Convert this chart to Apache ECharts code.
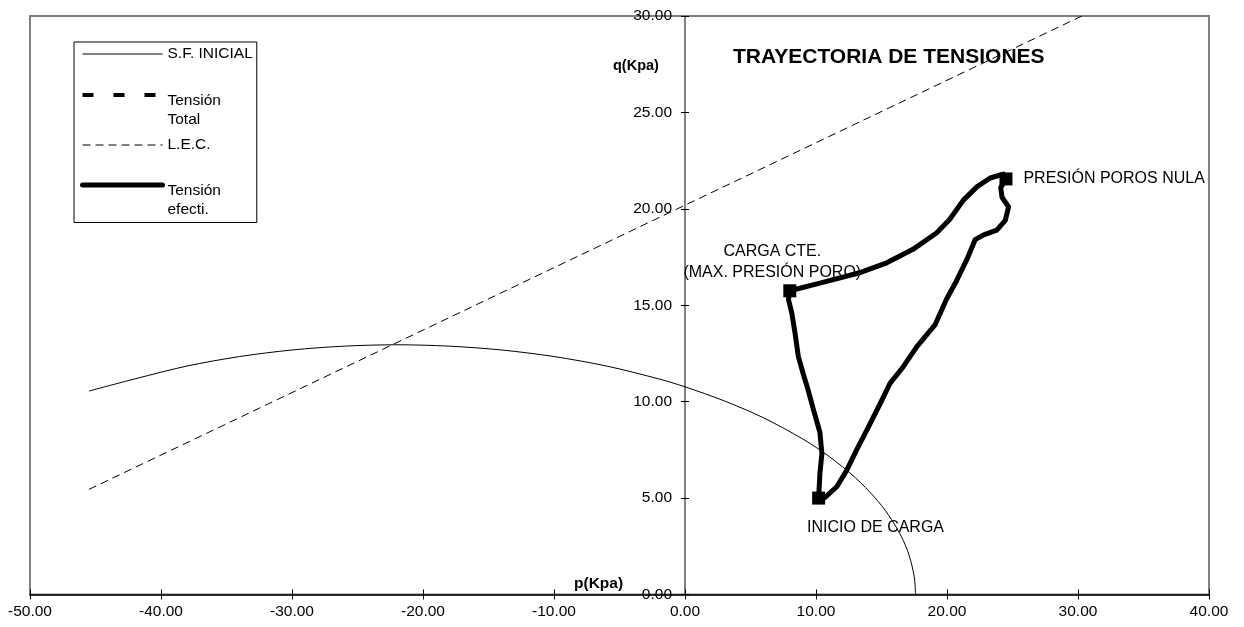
<!DOCTYPE html>
<html>
<head>
<meta charset="utf-8">
<title>Trayectoria de tensiones</title>
<script src="https://cdn.jsdelivr.net/npm/echarts@6/dist/echarts.min.js"></script>
<style>
  html, body { margin: 0; padding: 0; background: #fff; }
  #chart { width: 1244px; height: 627px; }
</style>
</head>
<body>
<div id="chart"></div>
<script>
// Escalas de los ejes p (Kpa) y q (Kpa)
const pRange = [-50, 40];
const pStep = 10;
const qRange = [0, 30];
const qStep = 5;

// Superficie de fluencia inicial
const sfP = [-45.5, -42, -38, -34, -30, -26, -22, -18, -14, -10, -6, -2, 0, 3, 6, 9, 11, 13, 14.5, 15.5, 16.5, 17.1, 17.5, 17.6];
const sfQ = [10.55, 11.18, 11.85, 12.34, 12.68, 12.88, 12.95, 12.88, 12.68, 12.34, 11.85, 11.18, 10.77, 10.04, 9.16, 8.06, 7.16, 6.06, 5.02, 4.16, 3.03, 2.05, 0.92, 0.0];

// Línea de estado crítico
const lecP = [-45.5, 30.6];
const lecQ = [5.45, 30.1];

// Trayectoria de tensiones totales
const totalP = [];
const totalQ = [];

// Trayectoria de tensiones efectivas
const efP = [10.2, 10.3, 10.45, 10.3, 9.8, 9.4, 9.0, 8.65, 8.4, 8.15, 7.9, 8.0,
  10.3, 13.4, 15.4, 17.4, 19.2, 20.2, 21.25, 22.3, 23.3, 24.3, 24.5,
  24.1, 24.2, 24.7, 24.45, 23.8, 22.8, 22.15, 21.5, 20.75, 19.95, 19.1, 17.7, 16.65, 15.65, 14.9, 13.9, 13.1, 12.35, 11.6, 10.8, 10.3];
const efQ = [5.0, 6.3, 7.3, 8.4, 9.6, 10.6, 11.5, 12.35, 13.55, 14.6, 15.3, 15.75,
  16.15, 16.7, 17.2, 17.9, 18.75, 19.45, 20.45, 21.15, 21.6, 21.8, 21.55,
  21.1, 20.6, 20.1, 19.4, 18.9, 18.65, 18.4, 17.35, 16.3, 15.3, 14.0, 12.85, 11.8, 10.95, 9.9, 8.55, 7.5, 6.45, 5.6, 5.1, 4.85];

// Puntos singulares del ensayo
const hitoNames = ['INICIO DE CARGA', 'CARGA CTE.\n(MAX. PRESIÓN PORO)', 'PRESIÓN POROS NULA'];
const hitoP = [10.2, 8.0, 24.5];
const hitoQ = [5.0, 15.75, 21.55];

// Leyenda
const legendNames = ['S.F. INICIAL', 'Tensión Total', 'L.E.C.', 'Tensión efecti.'];
const legendLines = [['S.F. INICIAL'], ['Tensión', 'Total'], ['L.E.C.'], ['Tensión', 'efecti.']];

const FONT = 'Liberation Sans, Arial, Helvetica, sans-serif';
const pairs = (xs, ys) => xs.map((x, i) => [x, ys[i]]);
const fmt2 = v => v.toFixed(2);

// Espacio (px) sobre y bajo el texto de cada entrada, para situarlo respecto al icono
const legendSpace = [[0, 0], [41, 10], [9, 9], [31, 0]];

function legendText(name) {
  const i = legendNames.indexOf(name);
  const [above, below] = legendSpace[i];
  const rows = legendLines[i].map(t => '{a|' + t + '}');
  if (above) rows.unshift('{s' + above + '|\u00a0}');
  if (below) rows.push('{s' + below + '|\u00a0}');
  return rows.join('\n');
}

const legendRich = { a: { fontFamily: FONT, fontSize: 15.5, lineHeight: 19, color: '#000' } };
legendSpace.forEach(pair => pair.forEach(h => {
  if (h) legendRich['s' + h] = { fontSize: 1, lineHeight: h };
}));

// Posición de cada etiqueta respecto a su marcador
const hitoLabels = [
  { position: [-5, 36], align: 'left', verticalAlign: 'middle' },
  { position: [-11, -22], align: 'center', verticalAlign: 'middle', lineHeight: 20.5 },
  { position: [24, 6.5], align: 'left', verticalAlign: 'middle' }
];

const GRID = { left: 30, right: 35, top: 16, bottom: 32.5 };
const WIDTH = 1244, HEIGHT = 627;
const plotW = WIDTH - GRID.left - GRID.right;
const plotH = HEIGHT - GRID.top - GRID.bottom;
// Desplazamiento de los ejes para que se crucen en el origen
const yAxisShift = plotW * (0 - pRange[0]) / (pRange[1] - pRange[0]);

const chart = echarts.init(document.getElementById('chart'), null, { renderer: 'canvas' });

const tickStyle = { color: '#000', width: 1 };

const option = {
  animation: false,
  backgroundColor: '#fff',
  textStyle: { fontFamily: FONT, color: '#000' },
  title: [
    { text: 'TRAYECTORIA DE TENSIONES', left: 733, top: 47, padding: 0,
      textStyle: { fontFamily: FONT, fontSize: 21, fontWeight: 'bold', color: '#000' } },
    { text: 'q(Kpa)', left: 613, top: 58, padding: 0,
      textStyle: { fontFamily: FONT, fontSize: 14.5, fontWeight: 'bold', color: '#000' } },
    { text: 'p(Kpa)', left: 574, top: 576, padding: 0,
      textStyle: { fontFamily: FONT, fontSize: 15.5, fontWeight: 'bold', color: '#000' } }
  ],
  legend: {
    orient: 'vertical',
    left: 74,
    top: 42,
    padding: [2.5, 4, 3, 6],
    itemWidth: 80,
    itemHeight: 14,
    itemGap: -13,
    borderColor: '#000',
    borderWidth: 1,
    backgroundColor: '#fff',
    selectedMode: false,
    itemStyle: { opacity: 0 },
    lineStyle: { width: 'inherit' },
    textStyle: { fontFamily: FONT, fontSize: 15.5, lineHeight: 19, color: '#000', rich: legendRich },
    formatter: legendText,
    data: legendNames
  },
  grid: Object.assign({
    show: true, borderColor: '#808080', borderWidth: 2, backgroundColor: 'transparent',
    containLabel: false, outerBoundsMode: 'none'
  }, GRID),
  xAxis: [
    {
      type: 'value', min: pRange[0], max: pRange[1], interval: pStep, position: 'bottom',
      axisLine: { onZero: false, lineStyle: { color: '#000', width: 1.5 } },
      axisTick: { show: true, length: 5, lineStyle: tickStyle },
      axisLabel: { formatter: fmt2, fontFamily: FONT, fontSize: 15.5, color: '#000', margin: 9, showMinLabel: true, showMaxLabel: true, hideOverlap: false },
      splitLine: { show: false }
    },
    {
      // marcas hacia el interior del eje p
      type: 'value', min: pRange[0], max: pRange[1], interval: pStep, position: 'top',
      offset: -plotH,
      axisLine: { show: false, onZero: false },
      axisTick: { show: true, length: 5, lineStyle: tickStyle },
      axisLabel: { show: false },
      splitLine: { show: false }
    }
  ],
  yAxis: [
    {
      type: 'value', min: qRange[0], max: qRange[1], interval: qStep, position: 'left',
      offset: -yAxisShift,
      axisLine: { onZero: false, lineStyle: { color: '#808080', width: 2 } },
      axisTick: { show: true, length: 4, lineStyle: tickStyle },
      axisLabel: { formatter: fmt2, fontFamily: FONT, fontSize: 15.5, color: '#000', margin: 13, showMinLabel: true, showMaxLabel: true, hideOverlap: false },
      splitLine: { show: false }
    },
    {
      // marcas hacia la derecha del eje q
      type: 'value', min: qRange[0], max: qRange[1], interval: qStep, position: 'right',
      offset: -(plotW - yAxisShift),
      axisLine: { show: false, onZero: false },
      axisTick: { show: true, length: 4, lineStyle: tickStyle },
      axisLabel: { show: false },
      splitLine: { show: false }
    }
  ],
  series: [
    {
      name: 'S.F. INICIAL', type: 'line', xAxisIndex: 0, yAxisIndex: 0,
      data: pairs(sfP, sfQ), symbol: 'none', smooth: 0.3, color: '#000',
      lineStyle: { color: '#000', width: 1 }, z: 2
    },
    {
      name: 'Tensión Total', type: 'line', xAxisIndex: 0, yAxisIndex: 0,
      data: pairs(totalP, totalQ), symbol: 'none', color: '#000',
      lineStyle: { color: '#000', width: 4, type: [11, 20] }, z: 3
    },
    {
      name: 'L.E.C.', type: 'line', xAxisIndex: 0, yAxisIndex: 0,
      data: pairs(lecP, lecQ), symbol: 'none', color: '#000', clip: true,
      lineStyle: { color: '#000', width: 1, type: [8, 5] }, z: 2
    },
    {
      name: 'Tensión efecti.', type: 'line', xAxisIndex: 0, yAxisIndex: 0,
      data: pairs(efP, efQ), symbol: 'none', color: '#000',
      lineStyle: { color: '#000', width: 5, join: 'round', cap: 'round' }, z: 4
    },
    {
      name: 'Hitos', type: 'scatter', xAxisIndex: 0, yAxisIndex: 0,
      symbol: 'rect', symbolSize: 13, itemStyle: { color: '#000', opacity: 1 }, z: 5,
      label: { show: true, formatter: '{b}', fontFamily: FONT, fontSize: 16, color: '#000' },
      data: hitoP.map((p, i) => ({
        name: hitoNames[i], value: [p, hitoQ[i]], label: hitoLabels[i]
      }))
    }
  ]
};

chart.setOption(option);
</script>
</body>
</html>
